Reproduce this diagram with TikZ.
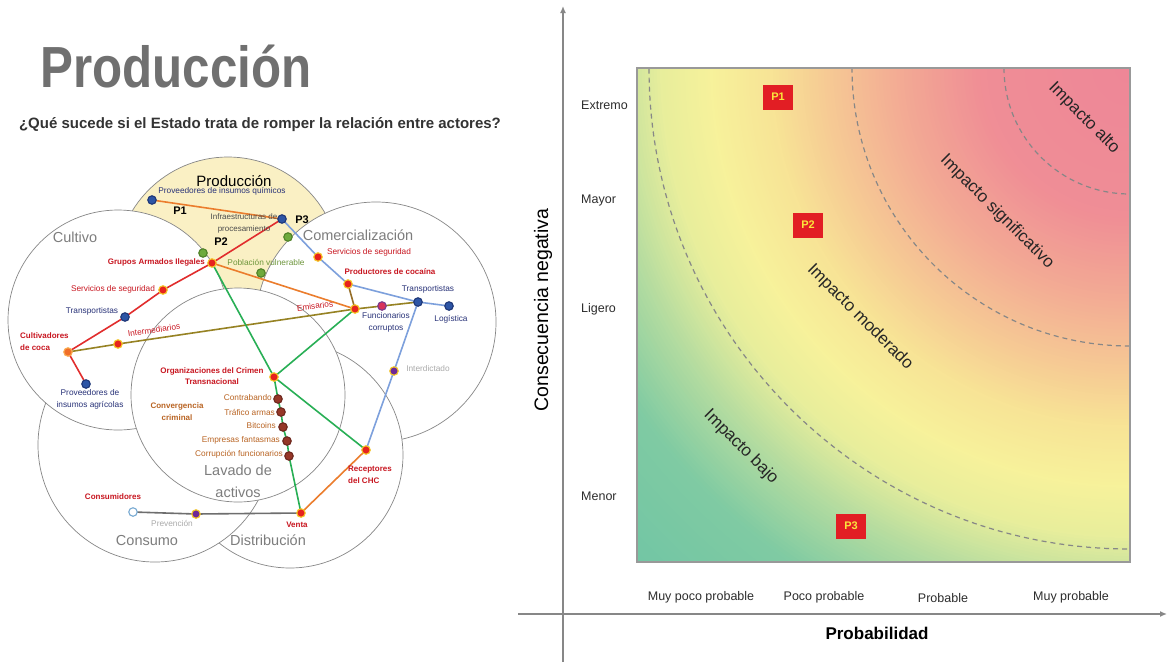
\documentclass[tikz,border=0pt]{standalone}
\usepackage{fontspec}
\setmainfont{Liberation Sans}
\usetikzlibrary{arrows.meta}
\definecolor{tred}{RGB}{200,22,32}
\definecolor{tblue}{RGB}{40,50,120}
\definecolor{torange}{RGB}{185,100,35}
\definecolor{tgreen}{RGB}{110,150,60}
\definecolor{tlgray}{RGB}{170,170,170}
\definecolor{cgray}{RGB}{125,125,125}
\definecolor{vgray}{RGB}{135,135,135}
\definecolor{prodyellow}{RGB}{250,240,196}
\definecolor{cRed}{RGB}{225,45,45}
\definecolor{cOrange}{RGB}{235,125,45}
\definecolor{cOlive}{RGB}{150,130,35}
\definecolor{cBlue}{RGB}{125,160,220}
\definecolor{cGreen}{RGB}{40,175,85}
\definecolor{cGray}{RGB}{110,110,110}
\definecolor{cBrown}{RGB}{150,110,40}
\definecolor{fBlue}{RGB}{45,85,165}
\definecolor{bBlue}{RGB}{30,55,120}
\definecolor{fRed}{RGB}{230,35,30}
\definecolor{bYel}{RGB}{245,200,40}
\definecolor{fOra}{RGB}{240,110,40}
\definecolor{bOra}{RGB}{250,170,80}
\definecolor{fGre}{RGB}{110,170,60}
\definecolor{bGre}{RGB}{80,130,40}
\definecolor{fBro}{RGB}{150,55,40}
\definecolor{bBro}{RGB}{110,40,30}
\definecolor{fPur}{RGB}{110,40,150}
\definecolor{fFun}{RGB}{215,50,90}
\definecolor{bFun}{RGB}{120,60,140}
\definecolor{bLbl}{RGB}{120,170,210}
\definecolor{axisgray}{RGB}{135,135,135}
\definecolor{boxred}{RGB}{226,30,36}
\definecolor{boxyel}{RGB}{250,230,60}
\definecolor{chtxt}{RGB}{45,45,45}
\definecolor{titgray}{RGB}{112,112,112}
\newcommand\fsz[2]{\fontsize{#1}{#2}\selectfont}
\newcommand\gradseg[8]{%
  \foreach \i in {0,...,19}{%
    \pgfmathsetmacro\rr{#1+(#2-#1)*\i/20}%
    \pgfmathtruncatemacro\cR{#3+(#6-#3)*\i/20}%
    \pgfmathtruncatemacro\cG{#4+(#7-#4)*\i/20}%
    \pgfmathtruncatemacro\cB{#5+(#8-#5)*\i/20}%
    \definecolor{gtmp}{RGB}{\cR,\cG,\cB}%
    \fill[gtmp] (gc) circle[radius=\rr pt];%
  }}
\begin{document}
\begin{tikzpicture}[x=1pt,y=-1pt,
  lbl/.style={inner sep=0pt,font=\fsz{8.3}{10}},
  rt/.style={lbl,text=tred},
  rtb/.style={lbl,text=tred,font=\fsz{8}{10}\bfseries},
  bt/.style={lbl,text=tblue},
  ot/.style={lbl,text=torange},
  gt/.style={lbl,text=tlgray},
  pt/.style={inner sep=0pt,font=\fsz{11}{12}\bfseries},
  bigl/.style={inner sep=0pt,font=\fsz{14.5}{17},text=cgray},
  venn/.style={draw=vgray,line width=0.7pt,fill=white},
  conn/.style={line width=1.6pt},
  pdot/.style={circle,inner sep=0pt,minimum size=8.5pt,line width=1.1pt},
  nblue/.style={pdot,fill=fBlue,draw=bBlue},
  nred/.style={pdot,fill=fRed,draw=bYel},
  nora/.style={pdot,fill=fOra,draw=bOra},
  ngre/.style={pdot,fill=fGre,draw=bGre},
  nbro/.style={pdot,fill=fBro,draw=bBro},
  npur/.style={pdot,fill=fPur,draw=bYel},
  nfun/.style={pdot,fill=fFun,draw=bFun},
  nwhi/.style={pdot,fill=white,draw=bLbl},
  axisline/.style={draw=axisgray,line width=2pt},
  ylab/.style={inner sep=0pt,anchor=west,font=\fsz{12.5}{14},text=chtxt},
  xlab/.style={inner sep=0pt,font=\fsz{12.5}{14},text=chtxt},
  imp/.style={inner sep=0pt,font=\fsz{17}{19},text=black!85,rotate=-45},
  pbox/.style={fill=boxred,text=boxyel,font=\fsz{11}{12}\bfseries,minimum width=30pt,minimum height=25pt,inner sep=0pt},
  arcd/.style={draw=axisgray,line width=1.2pt,dash pattern=on 5pt off 4pt}
]
\useasboundingbox (0,0) rectangle (1167,662);
\fill[white] (0,0) rectangle (1167,662);

% ---------- title ----------
\node[inner sep=0pt,text=titgray,font=\fsz{58}{60}\bfseries] (tit) at (176,67) {\scalebox{0.85}[1]{Producción}};
\node[inner sep=0pt,text=black!80,font=\fsz{15}{17}\bfseries] (sub) at (260,125) {¿Qué sucede si el Estado trata de romper la relación entre actores?};

% ---------- Venn circles ----------
\filldraw[venn,fill=prodyellow] (228,269) circle[radius=112pt];
\filldraw[venn] (376,322) circle[radius=120pt];
\filldraw[venn] (290,455) circle[radius=113pt];
\filldraw[venn] (155,445) circle[radius=117pt];
\filldraw[venn] (118,320) circle[radius=110pt];
\filldraw[venn] (238,395) circle[radius=107pt];

% ---------- coordinates ----------
\coordinate (PQ) at (152,200);
\coordinate (P3) at (282,219);
\coordinate (CC) at (68,352);
\coordinate (TR1) at (125,317);
\coordinate (SS1) at (163,290);
\coordinate (GA) at (212,263);
\coordinate (PIA) at (86,384);
\coordinate (INT) at (118,344);
\coordinate (EM) at (355,309);
\coordinate (FC) at (382,306);
\coordinate (TR2) at (418,302);
\coordinate (PC) at (348,284);
\coordinate (SS2) at (318,257);
\coordinate (LOG) at (449,306);
\coordinate (INTD) at (394,371);
\coordinate (REC) at (366,450);
\coordinate (OC) at (274,377);
\coordinate (L1) at (278,399);
\coordinate (L2) at (281,412);
\coordinate (L3) at (283,427);
\coordinate (L4) at (287,441);
\coordinate (L5) at (289,456);
\coordinate (VEN) at (301,513);
\coordinate (CON) at (133,512);
\coordinate (PREV) at (196,514);
\coordinate (GD1) at (288,237);
\coordinate (GD2) at (203,253);
\coordinate (GD3) at (261,273);

% ---------- connectors ----------
\draw[conn,cOrange] (PQ) -- (P3);
\draw[conn,cRed] (CC) -- (TR1) -- (SS1) -- (GA) -- (P3);
\draw[conn,cRed] (CC) -- (PIA);
\draw[conn,cOlive] (CC) -- (INT) -- (EM) -- (FC) -- (TR2);
\draw[conn,cBrown] (PC) -- (EM);
\draw[conn,cBlue] (P3) -- (SS2) -- (PC) -- (TR2) -- (LOG);
\draw[conn,cBlue] (TR2) -- (INTD) -- (REC);
\draw[conn,cOrange] (GA) -- (EM);
\draw[conn,cGreen] (GA) -- (OC);
\draw[conn,cGreen] (OC) -- (EM);
\draw[conn,cGreen] (OC) -- (REC);
\draw[conn,cGreen] (OC) -- (L1) -- (L2) -- (L3) -- (L4) -- (L5) -- (VEN);
\draw[conn,cOrange] (VEN) -- (REC);
\draw[conn,cGray] (CON) -- (PREV) -- (VEN);

% ---------- dots ----------
\node[nblue] (dPQ) at (PQ) {};
\node[nblue] (dP3) at (P3) {};
\node[nora] (dCC) at (CC) {};
\node[nblue] (dTR1) at (TR1) {};
\node[nred] (dSS1) at (SS1) {};
\node[nred] (dGA) at (GA) {};
\node[nblue] (dPIA) at (PIA) {};
\node[nred] (dINT) at (INT) {};
\node[nred] (dEM) at (EM) {};
\node[nfun] (dFC) at (FC) {};
\node[nblue] (dTR2) at (TR2) {};
\node[nred] (dPC) at (PC) {};
\node[nred] (dSS2) at (SS2) {};
\node[nblue] (dLOG) at (LOG) {};
\node[npur] (dINTD) at (INTD) {};
\node[nred] (dREC) at (REC) {};
\node[nred] (dOC) at (OC) {};
\node[nbro] (dL1) at (L1) {};
\node[nbro] (dL2) at (L2) {};
\node[nbro] (dL3) at (L3) {};
\node[nbro] (dL4) at (L4) {};
\node[nbro] (dL5) at (L5) {};
\node[nred] (dVEN) at (VEN) {};
\node[nwhi] (dCON) at (CON) {};
\node[npur] (dPREV) at (PREV) {};
\node[ngre] (dGD1) at (GD1) {};
\node[ngre] (dGD2) at (GD2) {};
\node[ngre] (dGD3) at (GD3) {};

% ---------- circle titles ----------
\node[inner sep=0pt,font=\fsz{15}{17}] (tProd) at (234,181) {Producción};
\node[bigl] (tCult) at (75,237) {Cultivo};
\node[bigl] (tCom) at (358,235) {Comercialización};
\node[bigl,align=center,font=\fsz{14.5}{22}] (tLav) at (238,481) {Lavado de\\activos};
\node[bigl] (tCons) at (147,540) {Consumo};
\node[bigl] (tDist) at (268,540) {Distribución};

% ---------- labels ----------
\node[bt] (aPQ) at (222,191) {Proveedores de insumos químicos};
\node[pt] (aP1) at (180,211) {P1};
\node[pt] (aP2) at (221,242) {P2};
\node[pt] (aP3) at (302,220) {P3};
\node[lbl,text=black!70,align=center,font=\fsz{8}{12}] (aInf) at (244,223) {Infraestructuras de\\procesamiento};
\node[lbl,text=tgreen] (aPV) at (266,262) {Población vulnerable};
\node[rtb,anchor=east] (aGA) at (205,262) {Grupos Armados Ilegales};
\node[rt] (aSS1) at (113,289) {Servicios de seguridad};
\node[bt] (aTR1) at (92,311) {Transportistas};
\node[rtb,align=left,anchor=north west,font=\fsz{8}{12}\bfseries] (aCC) at (20,332) {Cultivadores\\de coca};
\node[rt,rotate=8] (aINT) at (154,330) {Intermediarios};
\node[bt,align=center,font=\fsz{8.3}{12}] (aPIA) at (90,399) {Proveedores de\\insumos agrícolas};
\node[rt] (aSS2) at (369,252) {Servicios de seguridad};
\node[rtb] (aPC) at (390,272) {Productores de cocaína};
\node[bt] (aTR2) at (428,289) {Transportistas};
\node[rt,rotate=7] (aEM) at (315,306) {Emisarios};
\node[bt,align=center,font=\fsz{8.3}{12}] (aFC) at (386,322) {Funcionarios\\corruptos};
\node[bt] (aLOG) at (451,319) {Logística};
\node[gt] (aINTD) at (428,369) {Interdictado};
\node[rtb,align=left,anchor=north west,font=\fsz{8}{12}\bfseries] (aREC) at (348,466) {Receptores\\del CHC};
\node[rtb,align=center,font=\fsz{8}{11}\bfseries] (aOC) at (212,376) {Organizaciones del Crimen\\Transnacional};
\node[lbl,text=torange,align=center,font=\fsz{8}{12}\bfseries] (aCV) at (177,412) {Convergencia\\criminal};
\node[ot,anchor=east] (aL1) at (272,398) {Contrabando};
\node[ot,anchor=east] (aL2) at (275,412) {Tráfico armas};
\node[ot,anchor=east] (aL3) at (276,426) {Bitcoins};
\node[ot,anchor=east] (aL4) at (280,440) {Empresas fantasmas};
\node[ot,anchor=east] (aL5) at (283,454) {Corrupción funcionarios};
\node[rtb] (aCON) at (113,497) {Consumidores};
\node[gt] (aPREV) at (172,523) {Prevención};
\node[rtb] (aVEN) at (297,525) {Venta};

% ---------- risk chart ----------
\coordinate (gc) at (1130,68);
\begin{scope}
  \clip (637,68) rectangle (1130,562);
  \gradseg{720}{600}{112}{197}{165}{128}{203}{163}
  \gradseg{600}{530}{128}{203}{163}{180}{220}{160}
  \gradseg{530}{470}{180}{220}{160}{232}{238}{156}
  \gradseg{470}{420}{232}{238}{156}{247}{242}{155}
  \gradseg{420}{360}{247}{242}{155}{248}{228}{150}
  \gradseg{360}{300}{248}{228}{150}{246}{200}{148}
  \gradseg{300}{230}{246}{200}{148}{243}{170}{148}
  \gradseg{230}{150}{243}{170}{148}{240}{142}{150}
  \gradseg{150}{0}{240}{142}{150}{238}{135}{152}
  \draw[arcd] (gc) circle[radius=126pt];
  \draw[arcd] (gc) circle[radius=278pt];
  \draw[arcd] (gc) circle[radius=481pt];
\end{scope}
\draw[draw=black!40,line width=1.5pt] (637,68) rectangle (1130,562);

\coordinate (yb) at (563,662);
\coordinate (yt) at (563,6);
\coordinate (xl) at (518,614);
\coordinate (xr) at (1167,614);
\draw[axisline,-{Latex[length=7pt,width=6pt]}] (yb) -- (yt);
\draw[axisline,-{Latex[length=7pt,width=6pt]}] (xl) -- (xr);

\node[ylab] (yE) at (581,105) {Extremo};
\node[ylab] (yM) at (581,200) {Mayor};
\node[ylab] (yL) at (581,309) {Ligero};
\node[ylab] (yN) at (581,496) {Menor};
\node[xlab] (x1) at (701,597) {Muy poco probable};
\node[xlab] (x2) at (824,597) {Poco probable};
\node[xlab] (x3) at (943,598) {Probable};
\node[xlab] (x4) at (1071,597) {Muy probable};
\node[inner sep=0pt,font=\fsz{17}{19}\bfseries] (xt) at (877,633) {Probabilidad};
\node[inner sep=0pt,font=\fsz{19.5}{21},rotate=90] (yttl) at (543,310) {Consecuencia negativa};

\node[imp] (iA) at (1084,118) {Impacto alto};
\node[imp] (iS) at (997,212) {Impacto significativo};
\node[imp] (iM) at (860,317) {Impacto moderado};
\node[imp] (iB) at (741,447) {Impacto bajo};

\node[pbox] (b1) at (778,97) {P1};
\node[pbox] (b2) at (808,225) {P2};
\node[pbox] (b3) at (851,526) {P3};
\end{tikzpicture}
\end{document}
